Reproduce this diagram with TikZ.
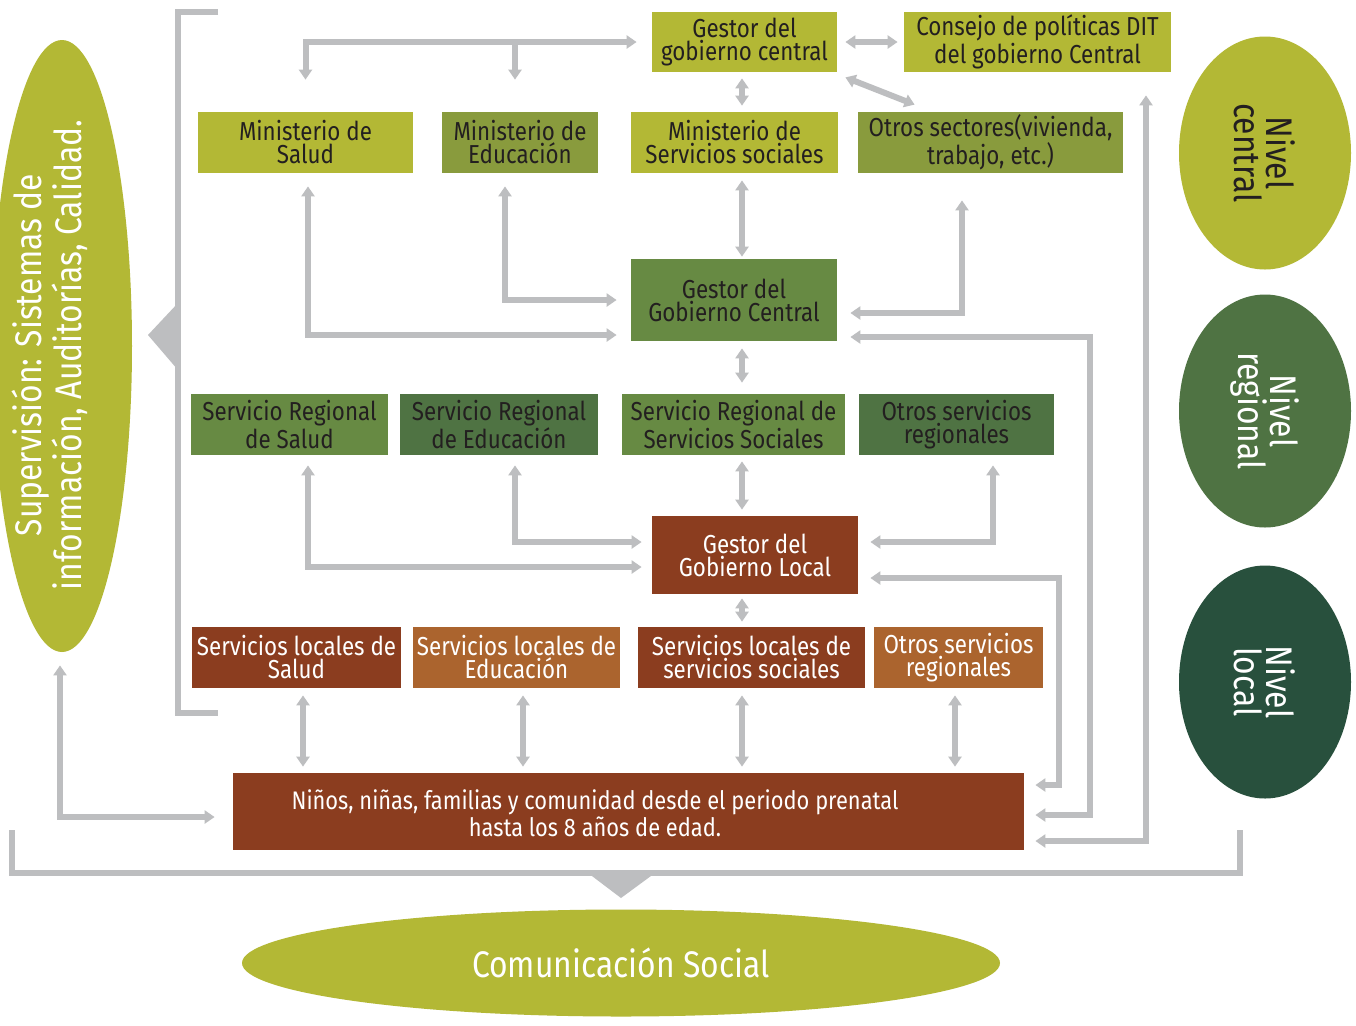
\documentclass[tikz,border=0pt]{standalone}
\usepackage{fontspec}
\setmainfont{Fira Sans}[FakeStretch=0.86]
\usetikzlibrary{shapes.geometric,arrows.meta}
\definecolor{olivaclaro}{HTML}{B3B835}
\definecolor{oliva}{HTML}{899B3D}
\definecolor{verde}{HTML}{678A43}
\definecolor{verdeosc}{HTML}{4F7343}
\definecolor{verdenoche}{HTML}{28503D}
\definecolor{marron}{HTML}{8B3D1F}
\definecolor{naranja}{HTML}{AB642E}
\definecolor{gris}{HTML}{BDBEC0}
\definecolor{tinta}{HTML}{231F20}
\tikzstyle{caja}=[rectangle,inner sep=0pt,align=center,text=tinta,font=\fontsize{13}{11.5}\selectfont]
\tikzstyle{fila}=[caja,minimum height=30.5pt]
\tikzstyle{nivel}=[ellipse,inner sep=0pt,rotate=-90,minimum width=116.5pt,minimum height=86pt,align=center,font=\fontsize{18.5}{16}\selectfont]
\tikzstyle{flecha}=[draw=gris,line width=3pt]
\tikzstyle{dflecha}=[flecha,<->]
\tikzstyle{marco}=[draw=gris,line width=3pt]

\begin{document}
\begin{tikzpicture}[x=0.5pt,y=-0.5pt,>={Triangle[width=6.5pt,length=5pt]}]
\useasboundingbox (0,0) rectangle (1356,1025);
\fill [white] (0,0) rectangle (1356,1025);
\clip (0,0) rectangle (1356,1025);

\draw [marco] (218,12) -| (178,713) -- (218,713);
\fill [gris] (178,303) -- (148,335) -- (178,370) -- cycle;
\draw [marco] (12,830) |- (1240,873) -- (1240,830);
\fill [gris] (588,873) -- (621,898) -- (655,873) -- cycle;

\node (superv) [ellipse,inner sep=0pt,fill=olivaclaro,minimum width=70pt,minimum height=306pt] at (62,346) {};
\node (supervtxt) [rotate=90,align=center,text=white,font=\fontsize{18.5}{16}\selectfont] at (50,355) {Supervisión: Sistemas de\\información, Auditorías, Calidad.};

\node (ncent) [nivel,fill=olivaclaro,text=tinta] at (1265,153) {Nivel\\central};
\node (nreg) [nivel,fill=verdeosc,text=white] at (1265,411) {Nivel\\regional};
\node (nloc) [nivel,fill=verdenoche,text=white] at (1265,682) {Nivel\\local};
\node (comsoc) [ellipse,inner sep=0pt,fill=olivaclaro,text=white,minimum width=379pt,minimum height=53.5pt,font=\fontsize{18.5}{20}\selectfont] at (621,963) {Comunicación Social};

\node (gcent) [caja,fill=olivaclaro,minimum width=92.5pt,minimum height=30pt] at (744.5,42) {Gestor del\\gobierno central};
\node (consejo) [caja,fill=olivaclaro,minimum width=133.5pt,minimum height=30pt] at (1037.5,42) {Consejo de políticas DIT\\del gobierno Central};
\node (msalud) [fila,fill=olivaclaro,minimum width=107.5pt] at (305.5,142.5) {Ministerio de\\Salud};
\node (meduc) [fila,fill=oliva,minimum width=78pt] at (520,142.5) {Ministerio de\\Educación};
\node (mserv) [fila,fill=olivaclaro,minimum width=103.5pt] at (734.5,142.5) {Ministerio de\\Servicios sociales};
\node (osect) [fila,fill=oliva,minimum width=132.5pt] at (990.5,142.5) {Otros sectores(vivienda,\\trabajo, etc.)};
\node (gcen2) [caja,fill=verde,minimum width=103pt,minimum height=41pt] at (734,300) {Gestor del\\Gobierno Central};
\node (rsalud) [fila,fill=verde,minimum width=98.5pt] at (289.5,424.5) {Servicio Regional\\de Salud};
\node (reduc) [fila,fill=verdeosc,minimum width=99pt] at (499,424.5) {Servicio Regional\\de Educación};
\node (rserv) [fila,fill=verde,minimum width=111.5pt] at (733.5,424.5) {Servicio Regional de\\Servicios Sociales};
\node (rotros) [fila,fill=verdeosc,minimum width=97.5pt] at (956.5,424.5) {Otros servicios\\regionales};
\node (glocal) [caja,fill=marron,text=white,minimum width=103pt,minimum height=39pt] at (755,555) {Gestor del\\Gobierno Local};
\node (lsalud) [fila,fill=marron,text=white,minimum width=104.5pt] at (296.5,657.5) {Servicios locales de\\Salud};
\node (leduc) [fila,fill=naranja,text=white,minimum width=103.5pt] at (516.5,657.5) {Servicios locales de\\Educación};
\node (lserv) [fila,fill=marron,text=white,minimum width=113.5pt] at (751.5,657.5) {Servicios locales de\\servicios sociales};
\node (lotros) [fila,fill=naranja,text=white,minimum width=84.5pt] at (958.5,657.5) {Otros servicios\\regionales};
\node (ninos) [caja,fill=marron,minimum width=395.5pt,minimum height=38.5pt] at (628.5,811.5) {};
\node (ninostxt) [caja,text=white,font=\fontsize{12.7}{11.5}\selectfont] at (595,813) {Niños, niñas, familias y comunidad desde el periodo prenatal\\hasta los 8 años de edad.};

\draw [dflecha,shorten <=16pt,shorten >=7.5pt] (msalud.north) |- (gcent.west);
\draw [flecha,->,shorten >=16pt] ([xshift=-2.5pt]meduc.north |- gcent.west) -- ([xshift=-2.5pt]meduc.north);
\draw [dflecha,shorten <=4pt,shorten >=3pt] (gcent.east) -- (consejo.west);
\draw [dflecha,shorten <=3pt,shorten >=3pt] ([xshift=-1.25pt]gcent.south) -- ([xshift=-1.25pt]gcent.south |- mserv.north);
\draw [dflecha] ([xshift=4pt,yshift=-2.5pt]gcent.south east) -- ([xshift=28.5pt,yshift=3.5pt]osect.north west);
\draw [dflecha,shorten <=6.5pt,shorten >=7pt] ([xshift=1.25pt]msalud.south) |- ([yshift=-17.5pt]gcen2.west);
\draw [dflecha,shorten <=6.5pt,shorten >=7pt] ([xshift=-7.5pt]meduc.south) |- (gcen2.west);
\draw [dflecha,shorten <=3.5pt,shorten >=1pt] ([xshift=3.75pt]mserv.south) -- ([xshift=4pt]gcen2.north);
\draw [dflecha,shorten <=13.5pt,shorten >=6.5pt] ([xshift=-14.25pt]osect.south) |- ([yshift=-6.5pt]gcen2.east);
\draw [dflecha,shorten <=6.5pt,shorten >=5.5pt] ([yshift=-18.5pt]gcen2.east) -- ++(126.5pt,0) |- ([yshift=-1.75pt]ninos.east);
\draw [dflecha,shorten <=3.5pt,shorten >=5.5pt] ([xshift=4pt]gcen2.south) -- ([xshift=4.25pt]rserv.north);
\draw [dflecha,shorten <=5pt,shorten >=5pt] ([xshift=9.25pt]rsalud.south) |- ([yshift=-6pt]glocal.west);
\draw [dflecha,shorten <=5pt,shorten >=5pt] ([xshift=8pt]reduc.south) |- ([yshift=6.5pt]glocal.west);
\draw [dflecha,shorten <=3pt,shorten >=3pt] ([xshift=4.25pt]rserv.south) -- ([xshift=-6.5pt]glocal.north);
\draw [dflecha,shorten <=5pt,shorten >=6pt] ([xshift=18.25pt]rotros.south) |- ([yshift=6.5pt]glocal.east);
\draw [dflecha,shorten <=6pt,shorten >=5.5pt] ([yshift=-11.5pt]glocal.east) -- ++(100.5pt,0) |- ([yshift=13.25pt]ninos.east);
\draw [dflecha,shorten <=2pt,shorten >=2.5pt] ([xshift=-6.5pt]glocal.south) -- ([xshift=-4.75pt]lserv.north);
\draw [dflecha,shorten <=3.5pt,shorten >=3pt] ([xshift=3.25pt]lsalud.south) -- ([xshift=3.25pt]lsalud.south |- ninos.north);
\draw [dflecha,shorten <=3.5pt,shorten >=3pt] ([xshift=3.25pt]leduc.south) -- ([xshift=3.25pt]leduc.south |- ninos.north);
\draw [dflecha,shorten <=3.5pt,shorten >=3pt] ([xshift=-4.75pt]lserv.south) -- ([xshift=-4.75pt]lserv.south |- ninos.north);
\draw [dflecha,shorten <=3.5pt,shorten >=3pt] ([xshift=-1.75pt]lotros.south) -- ([xshift=-1.75pt]lotros.south |- ninos.north);
\draw [dflecha,shorten <=11.5pt,shorten >=5.5pt] ([xshift=54.25pt]consejo.south) |- ([yshift=-14.75pt]ninos.east);
\draw [dflecha,shorten <=6.5pt,shorten >=9pt] ([xshift=-1pt]superv.south) |- ([yshift=-2.75pt]ninos.west);
\end{tikzpicture}
\end{document}
